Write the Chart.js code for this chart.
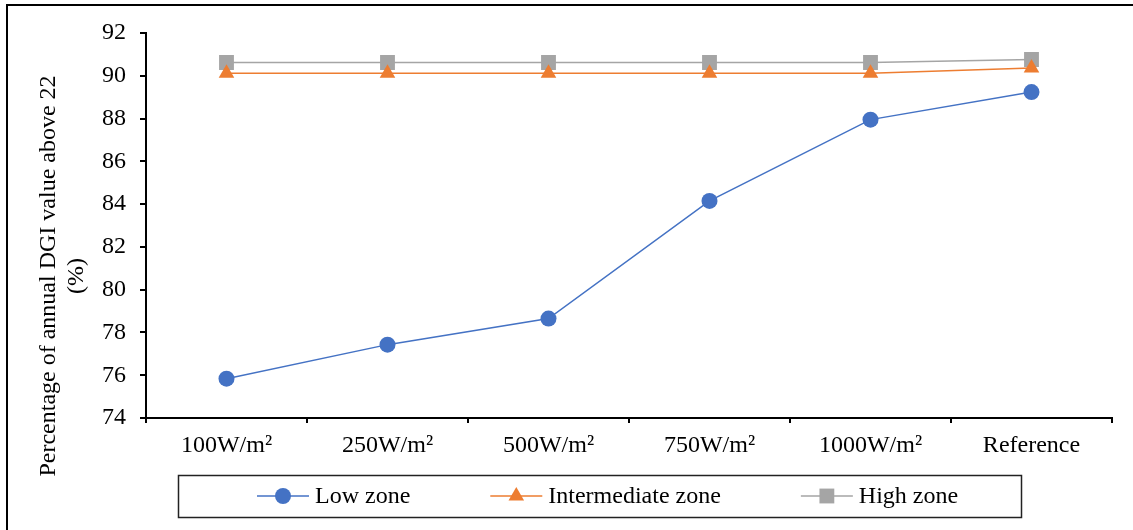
<!DOCTYPE html>
<html>
<head>
<meta charset="utf-8">
<script src="https://cdn.jsdelivr.net/npm/chart.js@4.4.0/dist/chart.umd.min.js"></script>
<style>
  html, body { margin: 0; padding: 0; background: #fff; overflow: hidden; }
  #wrap { position: relative; width: 1133px; height: 530px; }
  #frame { position: absolute; left: 6px; top: 4px; width: 1200px; height: 600px; border: 2px solid #000; box-sizing: border-box; }
  #myChart { position: absolute; left: 0; top: 0; }
</style>
</head>
<body>
<div id="wrap">
  <div id="frame"></div>
  <canvas id="myChart" width="1133" height="530"></canvas>
</div>
<script>
// values
var categories = ['100W/m²', '250W/m²', '500W/m²', '750W/m²', '1000W/m²', 'Reference'];
var lowZone = [75.84, 77.43, 78.65, 84.15, 87.95, 89.24];
var intermediateZone = [90.12, 90.12, 90.12, 90.12, 90.12, 90.36];
var highZone = [90.62, 90.62, 90.62, 90.62, 90.62, 90.76];
var yTitle = ['Percentage of annual DGI value above 22', '(%)'];

var FONT = '"Liberation Serif", "Times New Roman", serif';
Chart.defaults.font.family = FONT;
Chart.defaults.color = '#000';

function drawMarker(ctx, style, x, y, r, color) {
    ctx.save();
    ctx.fillStyle = color;
    ctx.beginPath();
    if (style === 'circle') {
        ctx.arc(x, y, r, 0, Math.PI * 2);
    } else if (style === 'triangle') {
        ctx.moveTo(x, y - r);
        ctx.lineTo(x + r * Math.sin(Math.PI / 3), y + r / 2);
        ctx.lineTo(x - r * Math.sin(Math.PI / 3), y + r / 2);
        ctx.closePath();
    } else {
        var s = r * Math.SQRT1_2;
        ctx.rect(x - s, y - s, 2 * s, 2 * s);
    }
    ctx.fill();
    ctx.restore();
}

// y title sits a bit lower than the plot middle, like the original
var yTitlePlugin = {
    id: 'yTitle',
    afterDraw(chart) {
        var ctx = chart.ctx;
        ctx.save();
        ctx.font = '24px ' + FONT;
        ctx.fillStyle = '#000';
        ctx.textAlign = 'center';
        ctx.textBaseline = 'middle';
        ctx.translate(0, 276);
        ctx.rotate(-Math.PI / 2);
        ctx.fillText(yTitle[0], 0, 49);
        ctx.fillText(yTitle[1], 0, 77);
        ctx.restore();
    }
};

// boxed legend with line + marker like excel
var boxLegend = {
    id: 'boxLegend',
    afterDraw(chart) {
        var ctx = chart.ctx;
        ctx.save();
        ctx.strokeStyle = '#222';
        ctx.lineWidth = 1.5;
        ctx.strokeRect(178.5, 475.5, 843, 42);
        ctx.font = '24px ' + FONT;
        ctx.textBaseline = 'middle';
        var x = 257, y = 496;
        chart.data.datasets.forEach(function (ds) {
            ctx.strokeStyle = ds.borderColor;
            ctx.lineWidth = ds.borderWidth;
            ctx.beginPath();
            ctx.moveTo(x, y);
            ctx.lineTo(x + 52, y);
            ctx.stroke();
            drawMarker(ctx, ds.pointStyle, x + 26, y, ds.pointRadius, ds.pointBackgroundColor);
            ctx.fillStyle = '#000';
            ctx.fillText(ds.label, x + 58, y + 1);
            x += 58 + ctx.measureText(ds.label).width + 80;
        });
        ctx.restore();
    }
};

var ctx = document.getElementById('myChart').getContext('2d');
var myChart = new Chart(ctx, {
    type: 'line',
    data: {
        labels: categories,
        datasets: [{
            label: 'Low zone',
            data: lowZone,
            borderColor: '#4472C4',
            backgroundColor: '#4472C4',
            pointBackgroundColor: '#4472C4',
            pointBorderWidth: 0,
            pointStyle: 'circle',
            pointRadius: 8,
            borderWidth: 1.5
        }, {
            label: 'Intermediate zone',
            data: intermediateZone,
            borderColor: '#ED7D31',
            backgroundColor: '#ED7D31',
            pointBackgroundColor: '#ED7D31',
            pointBorderWidth: 0,
            pointStyle: 'triangle',
            pointRadius: 9,
            borderWidth: 1.5
        }, {
            label: 'High zone',
            data: highZone,
            borderColor: '#A5A5A5',
            backgroundColor: '#A5A5A5',
            pointBackgroundColor: '#A5A5A5',
            pointBorderWidth: 0,
            pointStyle: 'rect',
            pointRadius: 10.5,
            borderWidth: 1.5
        }]
    },
    options: {
        responsive: false,
        animation: false,
        layout: { padding: { left: 0, top: 33, right: 21, bottom: 0 } },
        plugins: {
            legend: { display: false },
            tooltip: { enabled: false }
        },
        scales: {
            x: {
                offset: true,
                grid: { offset: true, drawOnChartArea: false, color: '#000', lineWidth: 2, tickLength: 5 },
                border: { color: '#000', width: 2 },
                ticks: { font: { size: 24 }, padding: 8, maxRotation: 0 },
                afterFit: function (scale) { scale.height = 112; }
            },
            y: {
                min: 74,
                max: 92,
                ticks: { stepSize: 2, font: { size: 24 }, padding: 14 },
                grid: { drawOnChartArea: false, color: '#000', lineWidth: 2, tickLength: 6 },
                border: { color: '#000', width: 2 },
                afterFit: function (scale) { scale.width = 146; }
            }
        }
    },
    plugins: [yTitlePlugin, boxLegend]
});
</script>
</body>
</html>
